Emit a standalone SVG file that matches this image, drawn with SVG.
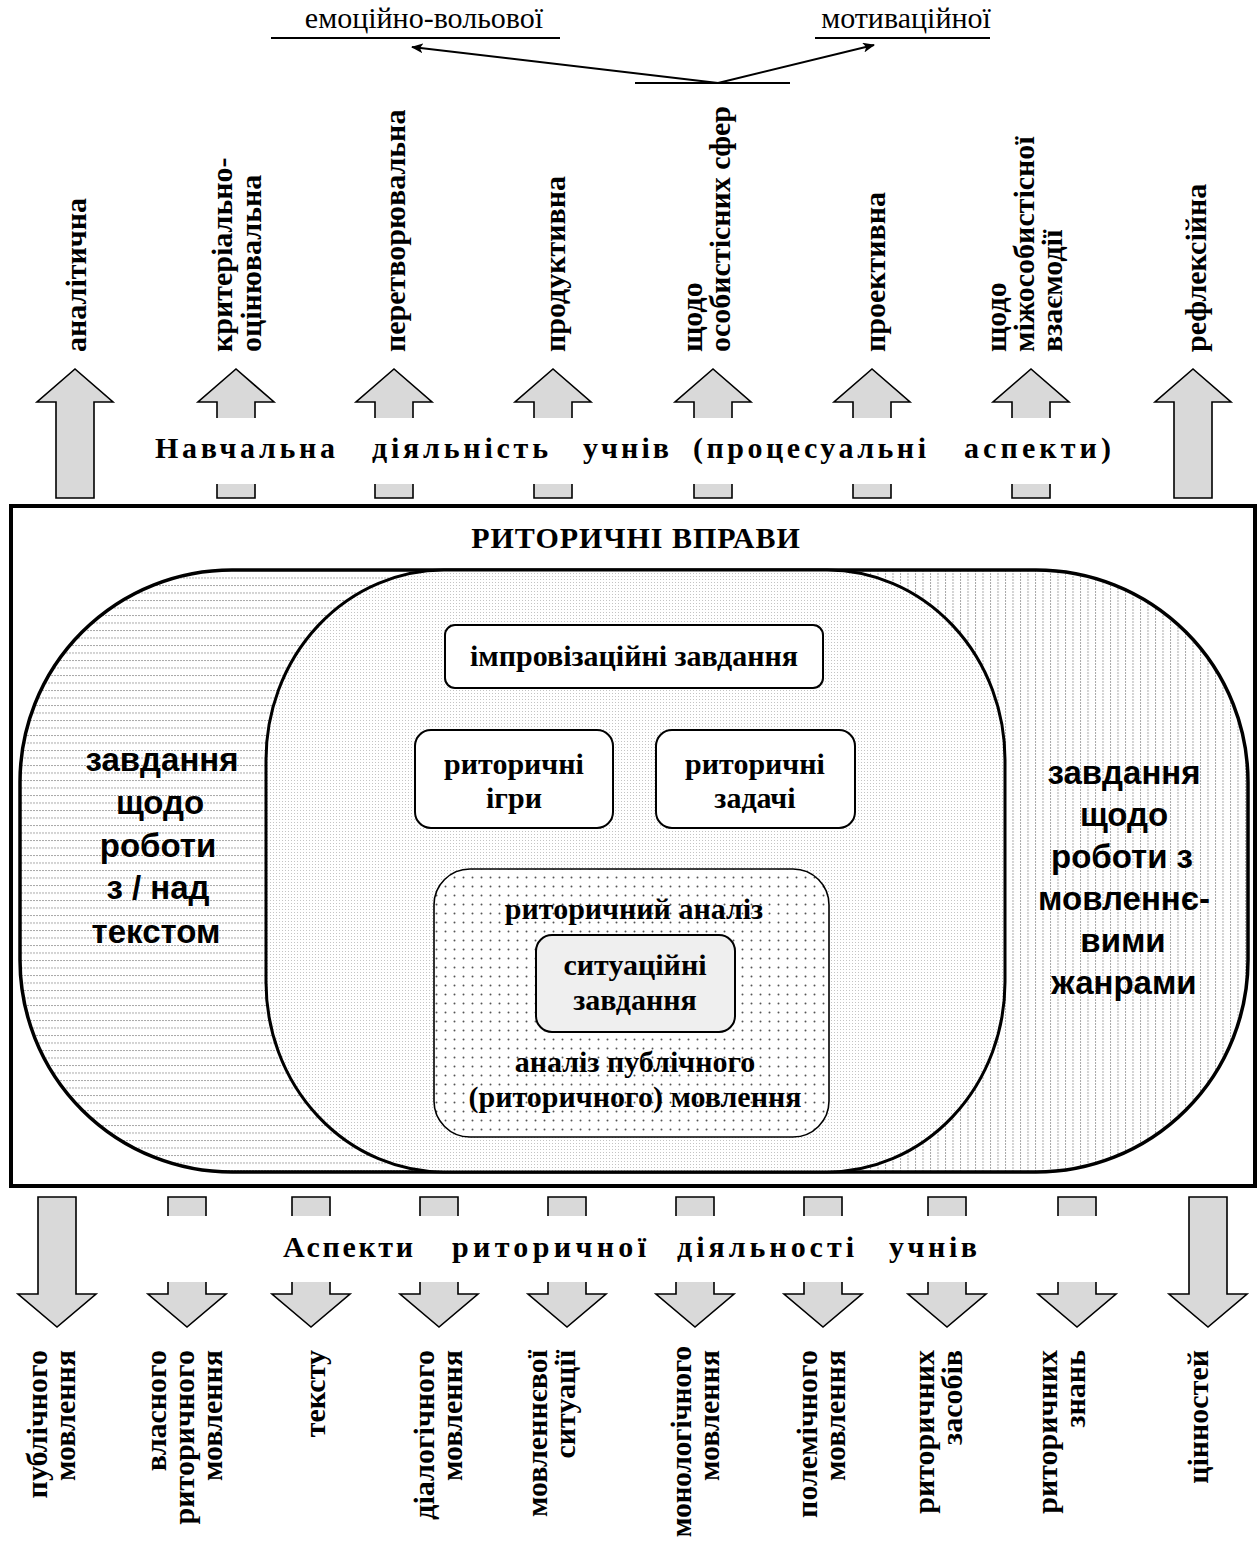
<svg xmlns="http://www.w3.org/2000/svg" width="1258" height="1541" viewBox="0 0 1258 1541">
<defs>
<style>
.s{font-family:"Liberation Serif","Times New Roman",serif;font-size:30px;fill:#000}
.b{font-weight:bold}
.c{text-anchor:middle}
.e{text-anchor:end}
.sans{font-family:"Liberation Sans",Arial,sans-serif;font-weight:bold;font-size:33px;text-anchor:middle;fill:#000}
.blk{fill:#d9d9d9;stroke:#000;stroke-width:1.6;stroke-linejoin:miter}
.box{fill:#fff;stroke:#000;stroke-width:2}
.ln{fill:none;stroke:#000;stroke-width:2}
</style>
<pattern id="hl" width="3" height="7.5" patternUnits="userSpaceOnUse"><rect width="2" height="1" fill="#a8a8a8"/></pattern>
<pattern id="vl" width="7.5" height="3" patternUnits="userSpaceOnUse"><rect width="1" height="2" fill="#a8a8a8"/></pattern>
<pattern id="fine" width="3" height="3" patternUnits="userSpaceOnUse"><rect width="1" height="1" fill="#c4c4c4"/></pattern>
<pattern id="dots" width="9" height="9" patternUnits="userSpaceOnUse"><circle cx="4.5" cy="4.5" r="1" fill="#555"/></pattern>
<clipPath id="cl"><rect x="0" y="0" width="640" height="1541"/></clipPath>
<clipPath id="cr"><rect x="640" y="0" width="618" height="1541"/></clipPath>
<marker id="ah" viewBox="0 0 12 10" refX="11" refY="5" markerWidth="12" markerHeight="10" markerUnits="userSpaceOnUse" orient="auto">
<path d="M0,0 L12,5 L0,10 L3,5 z" fill="#000"/>
</marker>
</defs>
<rect width="1258" height="1541" fill="#fff"/>

<g id="top-labels">
<text class="s" x="424" y="28" text-anchor="middle" font-size="30.5">емоційно-вольової</text>
<line x1="271" y1="38" x2="560" y2="38" stroke="#000" stroke-width="2"/>
<text class="s" x="906" y="28" text-anchor="middle" font-size="30.5">мотиваційної</text>
<line x1="815" y1="38" x2="990" y2="38" stroke="#000" stroke-width="2"/>
<line x1="635" y1="83" x2="790" y2="83" stroke="#000" stroke-width="2"/>
</g>

<g id="connectors">
<line class="ln" x1="718" y1="83" x2="412" y2="47" marker-end="url(#ah)"/>
<line class="ln" x1="718" y1="83" x2="874" y2="45" marker-end="url(#ah)"/>
<line class="ln" x1="634" y1="868" x2="634" y2="690" marker-end="url(#ah)"/>
<line class="ln" x1="514" y1="868" x2="514" y2="830" marker-end="url(#ah)"/>
<line class="ln" x1="755" y1="868" x2="755" y2="830" marker-end="url(#ah)"/>
</g>

<g id="up-arrows">
<polygon class="blk" points="56,498 56,402 37,402 75,369 113,402 94,402 94,498"/>
<polygon class="blk" points="217,498 217,402 198,402 236,369 274,402 255,402 255,498"/>
<polygon class="blk" points="375,498 375,402 356,402 394,369 432,402 413,402 413,498"/>
<polygon class="blk" points="534,498 534,402 515,402 553,369 591,402 572,402 572,498"/>
<polygon class="blk" points="694,498 694,402 675,402 713,369 751,402 732,402 732,498"/>
<polygon class="blk" points="853,498 853,402 834,402 872,369 910,402 891,402 891,498"/>
<polygon class="blk" points="1012,498 1012,402 993,402 1031,369 1069,402 1050,402 1050,498"/>
<polygon class="blk" points="1174,498 1174,402 1155,402 1193,369 1231,402 1212,402 1212,498"/>
</g>

<g id="up-label-texts" class="s b">
<text transform="translate(86,352) rotate(-90)">аналітична</text>
<text transform="translate(232,352) rotate(-90)">критеріально-</text>
<text transform="translate(261,352) rotate(-90)">оцінювальна</text>
<text transform="translate(405,352) rotate(-90)">перетворювальна</text>
<text transform="translate(565,352) rotate(-90)">продуктивна</text>
<text transform="translate(702,352) rotate(-90)">щодо</text>
<text transform="translate(730,352) rotate(-90)">особистісних сфер</text>
<text transform="translate(885,352) rotate(-90)">проективна</text>
<text transform="translate(1006,352) rotate(-90)">щодо</text>
<text transform="translate(1034,352) rotate(-90)">міжособистісної</text>
<text transform="translate(1062,352) rotate(-90)">взаємодії</text>
<text transform="translate(1206,352) rotate(-90)">рефлексійна</text>
</g>

<g id="band-top">
<rect x="125" y="418" width="1020" height="66" fill="#fff"/>
<text class="s b" y="458">
<tspan x="155" textLength="180" lengthAdjust="spacing">Навчальна</tspan>
<tspan x="372" textLength="176" lengthAdjust="spacing">діяльність</tspan>
<tspan x="583" textLength="86" lengthAdjust="spacing">учнів</tspan>
<tspan x="693" textLength="233" lengthAdjust="spacing">(процесуальні</tspan>
<tspan x="964" textLength="147" lengthAdjust="spacing">аспекти)</tspan>
</text>
</g>

<g id="exercises">
<rect x="11" y="506" width="1244" height="680" fill="#fff" stroke="#000" stroke-width="4"/>
<text class="s b c" x="636" y="548" font-size="30" letter-spacing="1">РИТОРИЧНІ ВПРАВИ</text>
</g>

<g id="text-tasks">
<path d="M232,570 H1036 A212,212 0 0 1 1248,782 V960 A212,212 0 0 1 1036,1172 H232 A212,212 0 0 1 20,960 V782 A212,212 0 0 1 232,570 Z" fill="url(#hl)" clip-path="url(#cl)"/>
<text class="sans" x="162" y="771">завдання</text>
<text class="sans" x="160" y="814">щодо</text>
<text class="sans" x="158" y="857">роботи</text>
<text class="sans" x="158" y="899">з / над</text>
<text class="sans" x="156" y="943">текстом</text>
</g>
<g id="genre-tasks">
<path d="M232,570 H1036 A212,212 0 0 1 1248,782 V960 A212,212 0 0 1 1036,1172 H232 A212,212 0 0 1 20,960 V782 A212,212 0 0 1 232,570 Z" fill="url(#vl)" clip-path="url(#cr)"/>
<path d="M232,570 H1036 A212,212 0 0 1 1248,782 V960 A212,212 0 0 1 1036,1172 H232 A212,212 0 0 1 20,960 V782 A212,212 0 0 1 232,570 Z" fill="none" stroke="#000" stroke-width="3.5"/>
<text class="sans" x="1124" y="784">завдання</text>
<text class="sans" x="1124" y="826">щодо</text>
<text class="sans" x="1122" y="868">роботи з</text>
<text class="sans" x="1124" y="910">мовленнє-</text>
<text class="sans" x="1123" y="952">вими</text>
<text class="sans" x="1124" y="994">жанрами</text>
</g>

<g id="rhetoric-core">
<rect x="266" y="570" width="739" height="602" rx="178" ry="190" fill="#fff"/>
<rect x="266" y="570" width="739" height="602" rx="178" ry="190" fill="url(#fine)" stroke="#000" stroke-width="3"/>
</g>

<g id="improv">
<rect class="box" x="445" y="625" width="378" height="63" rx="10"/>
<text class="s b c" x="634" y="666">імпровізаційні завдання</text>
</g>
<g id="games">
<rect class="box" x="415" y="730" width="198" height="98" rx="16"/>
<text class="s b c" x="514" y="774">риторичні</text>
<text class="s b c" x="514" y="808">ігри</text>
</g>
<g id="problems">
<rect class="box" x="656" y="730" width="199" height="98" rx="16"/>
<text class="s b c" x="755" y="774">риторичні</text>
<text class="s b c" x="755" y="808">задачі</text>
</g>
<g id="analysis">
<rect x="434" y="869" width="395" height="268" rx="36" fill="#fff"/>
<rect x="434" y="869" width="395" height="268" rx="36" fill="url(#dots)" stroke="#000" stroke-width="1.6"/>
<text class="s b c" x="634" y="919">риторичний аналіз</text>
<text class="s b c" x="635" y="1072">аналіз публічного</text>
<text class="s b c" x="635" y="1107">(риторичного) мовлення</text>
</g>
<g id="situational">
<rect x="536" y="935" width="199" height="97" rx="16" fill="#efefef" stroke="#000" stroke-width="2"/>
<text class="s b c" x="635" y="975">ситуаційні</text>
<text class="s b c" x="635" y="1010">завдання</text>
</g>

<g id="down-arrows">
<polygon class="blk" points="38,1197 76,1197 76,1294 96,1294 57,1327 18,1294 38,1294"/>
<polygon class="blk" points="168,1197 206,1197 206,1294 226,1294 187,1327 148,1294 168,1294"/>
<polygon class="blk" points="292,1197 330,1197 330,1294 350,1294 311,1327 272,1294 292,1294"/>
<polygon class="blk" points="420,1197 458,1197 458,1294 478,1294 439,1327 400,1294 420,1294"/>
<polygon class="blk" points="548,1197 586,1197 586,1294 606,1294 567,1327 528,1294 548,1294"/>
<polygon class="blk" points="676,1197 714,1197 714,1294 734,1294 695,1327 656,1294 676,1294"/>
<polygon class="blk" points="804,1197 842,1197 842,1294 862,1294 823,1327 784,1294 804,1294"/>
<polygon class="blk" points="928,1197 966,1197 966,1294 986,1294 947,1327 908,1294 928,1294"/>
<polygon class="blk" points="1058,1197 1096,1197 1096,1294 1116,1294 1077,1327 1038,1294 1058,1294"/>
<polygon class="blk" points="1189,1197 1227,1197 1227,1294 1247,1294 1208,1327 1169,1294 1189,1294"/>
</g>

<g id="band-bottom">
<rect x="105" y="1216" width="1055" height="66" fill="#fff"/>
<text class="s b" y="1257">
<tspan x="283" textLength="130" lengthAdjust="spacing">Аспекти</tspan>
<tspan x="452" textLength="194" lengthAdjust="spacing">риторичної</tspan>
<tspan x="677" textLength="177" lengthAdjust="spacing">діяльності</tspan>
<tspan x="889" textLength="88" lengthAdjust="spacing">учнів</tspan>
</text>
</g>

<g id="down-label-texts" class="s b e">
<text transform="translate(47,1350) rotate(-90)">публічного</text>
<text transform="translate(75,1350) rotate(-90)">мовлення</text>
<text transform="translate(166,1350) rotate(-90)">власного</text>
<text transform="translate(194,1350) rotate(-90)">риторичного</text>
<text transform="translate(222,1350) rotate(-90)">мовлення</text>
<text transform="translate(325,1350) rotate(-90)">тексту</text>
<text transform="translate(434,1350) rotate(-90)">діалогічного</text>
<text transform="translate(462,1350) rotate(-90)">мовлення</text>
<text transform="translate(547,1350) rotate(-90)">мовленнєвої</text>
<text transform="translate(575,1350) rotate(-90)">ситуації</text>
<text transform="translate(691,1346) rotate(-90)" font-size="29">монологічного</text>
<text transform="translate(719,1350) rotate(-90)">мовлення</text>
<text transform="translate(817,1350) rotate(-90)">полемічного</text>
<text transform="translate(845,1350) rotate(-90)">мовлення</text>
<text transform="translate(934,1350) rotate(-90)">риторичних</text>
<text transform="translate(962,1350) rotate(-90)">засобів</text>
<text transform="translate(1057,1350) rotate(-90)">риторичних</text>
<text transform="translate(1085,1350) rotate(-90)">знань</text>
<text transform="translate(1208,1350) rotate(-90)">цінностей</text>
</g>
</svg>
